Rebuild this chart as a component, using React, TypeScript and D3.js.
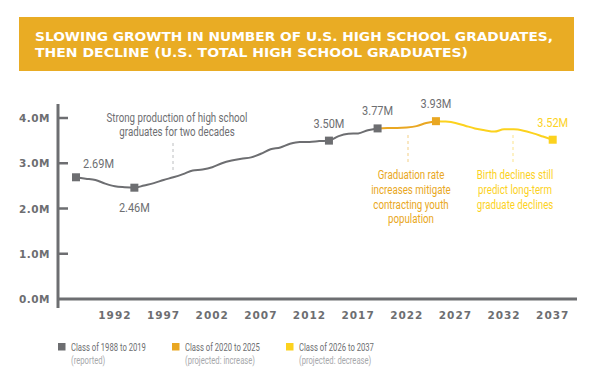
import React, { useRef, useEffect } from "react";
import * as d3 from "d3";

const WIDTH = 600;
const HEIGHT = 388;

const START_YEAR = 1988;
// U.S. total high school graduates, millions
const GRADUATES = [
  2.69, 2.66, 2.63, 2.55, 2.49, 2.47, 2.46, 2.51, 2.56, 2.63,
  2.69, 2.76, 2.84, 2.86, 2.91, 3.0, 3.06, 3.1, 3.13, 3.21,
  3.31, 3.35, 3.43, 3.47, 3.47, 3.49, 3.5, 3.6, 3.65, 3.66,
  3.73, 3.77, 3.78, 3.78, 3.79, 3.82, 3.89, 3.93, 3.92, 3.89,
  3.83, 3.77, 3.73, 3.7, 3.75, 3.75, 3.72, 3.66, 3.59, 3.52,
];
const YEARS = GRADUATES.map((_, i) => START_YEAR + i);

const X_TICKS = [1992, 1997, 2002, 2007, 2012, 2017, 2022, 2027, 2032, 2037];
const Y_TICKS = [0, 1, 2, 3, 4];

const SEGMENTS = [
  { from: 1988, to: 2019, color: "#6d6e71" },
  { from: 2019, to: 2025, color: "#e9a722" },
  { from: 2025, to: 2037, color: "#fcd21e" },
];

const MARKER_YEARS = [1988, 1994, 2014, 2019, 2025, 2037];
const MARKER_LABELS = ["2.69M", "2.46M", "3.50M", "3.77M", "3.93M", "3.52M"];

const LEGEND_TITLES = ["Class of 1988 to 2019", "Class of 2020 to 2025", "Class of 2026 to 2037"];
const LEGEND_NOTES = ["(reported)", "(projected: increase)", "(projected: decrease)"];

const TITLE_LINES = [
  "SLOWING GROWTH IN NUMBER OF U.S. HIGH SCHOOL GRADUATES,",
  "THEN DECLINE (U.S. TOTAL HIGH SCHOOL GRADUATES)",
];

const GRAY = "#6d6e71";
const LIGHT_GRAY = "#a7a9ac";
const ORANGE = "#e9a722";
const YELLOW = "#fcd21e";
const BANNER = "#e9ac24";

const WIDE = "'DejaVu Sans', Verdana, sans-serif";
const NARROW = "Roboto, sans-serif";

export default function App() {
  const svgRef = useRef<SVGSVGElement>(null);

  useEffect(() => {
    if (!svgRef.current) return;
    const svg = d3.select(svgRef.current);
    svg.selectAll("*").remove();

    // no condensed face installed: squeeze Roboto horizontally to the widths seen
    const fit = (sample: string, size: number, target: number) => {
      const probe = svg.append("text")
        .style("font-family", NARROW)
        .style("font-size", `${size}px`)
        .text(sample);
      const w = (probe.node() as SVGTextElement).getComputedTextLength() || target;
      probe.remove();
      return target / w;
    };
    const kNote = fit("Strong production of high school", 12.5, 141);
    const kValue = fit("2.69M", 12.5, 31);
    const kLegend = fit("Class of 1988 to 2019", 10.5, 75);

    const narrow = (
      px: number, py: number, txt: string, size: number, k: number, color: string, anchor = "start"
    ) => {
      svg.append("g")
        .attr("transform", `translate(${px},${py}) scale(${k},1)`)
        .append("text")
        .attr("text-anchor", anchor)
        .style("font-family", NARROW)
        .style("font-size", `${size}px`)
        .style("fill", color)
        .text(txt);
    };

    // title banner
    svg.append("rect")
      .attr("x", 19).attr("y", 17)
      .attr("width", 555).attr("height", 54)
      .attr("fill", BANNER);
    TITLE_LINES.forEach((t, i) => {
      svg.append("text")
        .attr("x", 35)
        .attr("y", 41 + i * 16)
        .attr("textLength", i === 0 ? 518 : 433)
        .attr("lengthAdjust", "spacingAndGlyphs")
        .style("font-family", WIDE)
        .style("font-weight", "bold")
        .style("font-size", "12.5px")
        .style("fill", "#fff")
        .text(t);
    });

    const x = d3.scaleLinear().domain([1988, 2037]).range([76, 552.7]);
    const y = d3.scaleLinear().domain([0, 4]).range([299, 118]);

    // axes
    svg.append("line")
      .attr("x1", 58).attr("x2", 58).attr("y1", 104).attr("y2", 308)
      .attr("stroke", GRAY).attr("stroke-width", 3);
    svg.append("line")
      .attr("x1", 58).attr("x2", 577).attr("y1", y(0)).attr("y2", y(0))
      .attr("stroke", GRAY).attr("stroke-width", 3);

    Y_TICKS.forEach((v) => {
      if (v > 0) {
        svg.append("line")
          .attr("x1", 58).attr("x2", 68).attr("y1", y(v)).attr("y2", y(v))
          .attr("stroke", GRAY).attr("stroke-width", 2.5);
      }
      svg.append("text")
        .attr("x", 50).attr("y", y(v) + 4)
        .attr("text-anchor", "end")
        .style("font-family", WIDE)
        .style("font-weight", "bold")
        .style("font-size", "10.5px")
        .style("letter-spacing", "0.5px")
        .style("fill", GRAY)
        .text(`${v.toFixed(1)}M`);
    });

    X_TICKS.forEach((yr) => {
      svg.append("text")
        .attr("x", x(yr)).attr("y", 319)
        .attr("text-anchor", "middle")
        .style("font-family", WIDE)
        .style("font-weight", "bold")
        .style("font-size", "10.5px")
        .style("letter-spacing", "1px")
        .style("fill", GRAY)
        .text(yr);
    });

    // series
    const line = d3.line<number>()
      .x((d) => x(d))
      .y((d) => y(GRADUATES[d - START_YEAR]))
      .curve(d3.curveMonotoneX);

    SEGMENTS.forEach((s) => {
      const yrs = YEARS.filter((yr) => yr >= s.from && yr <= s.to);
      svg.append("path")
        .datum(yrs)
        .attr("d", line)
        .attr("fill", "none")
        .attr("stroke", s.color)
        .attr("stroke-width", 2);
    });

    // markers and value labels
    MARKER_YEARS.forEach((yr, i) => {
      const v = GRADUATES[yr - START_YEAR];
      const color = yr <= 2019 ? GRAY : yr <= 2025 ? ORANGE : YELLOW;
      svg.append("rect")
        .attr("x", x(yr) - 4).attr("y", y(v) - 4)
        .attr("width", 8).attr("height", 8)
        .attr("fill", color);
      const labelColor = yr === 2037 ? YELLOW : GRAY;
      if (i === 0) {
        narrow(x(yr) + 7, y(v) - 9, MARKER_LABELS[i], 12.5, kValue, labelColor);
      } else if (i === 1) {
        narrow(x(yr), y(v) + 24, MARKER_LABELS[i], 12.5, kValue, labelColor, "middle");
      } else {
        narrow(x(yr), y(v) - 13, MARKER_LABELS[i], 12.5, kValue, labelColor, "middle");
      }
    });

    // annotations
    const notes = [
      { cx: 177, lines: ["Strong production of high school", "graduates for two decades"], top: 121.7, color: GRAY, dx: 173, dy: [143, 170], dash: "#bcbec0" },
      { cx: 411, lines: ["Graduation rate", "increases mitigate", "contracting youth", "population"], top: 179.3, color: ORANGE, dx: 408, dy: [135, 162], dash: "#f3cf85" },
      { cx: 515, lines: ["Birth declines still", "predict long-term", "graduate declines"], top: 179.3, color: YELLOW, dx: 513, dy: [135, 162], dash: "#fbe38a" },
    ];
    notes.forEach((n) => {
      n.lines.forEach((t, i) => {
        narrow(n.cx, n.top + i * 14.7, t, 12.5, kNote, n.color, "middle");
      });
      svg.append("line")
        .attr("x1", n.dx).attr("x2", n.dx)
        .attr("y1", n.dy[0]).attr("y2", n.dy[1])
        .attr("stroke", n.dash)
        .attr("stroke-width", 1)
        .attr("stroke-dasharray", "3,3");
    });

    // legend
    const legendX = [58, 172, 286];
    SEGMENTS.forEach((s, i) => {
      svg.append("rect")
        .attr("x", legendX[i]).attr("y", 343)
        .attr("width", 7.5).attr("height", 7.5)
        .attr("fill", s.color);
      narrow(legendX[i] + 13, 351, LEGEND_TITLES[i], 10.5, kLegend, GRAY);
      narrow(legendX[i] + 13, 364, LEGEND_NOTES[i], 10.5, kLegend, LIGHT_GRAY);
    });
  }, []);

  return (
    <svg
      ref={svgRef}
      width={WIDTH}
      height={HEIGHT}
      viewBox={`0 0 ${WIDTH} ${HEIGHT}`}
      style={{ position: "absolute", left: 0, top: 0, background: "#fff" }}
    />
  );
}
